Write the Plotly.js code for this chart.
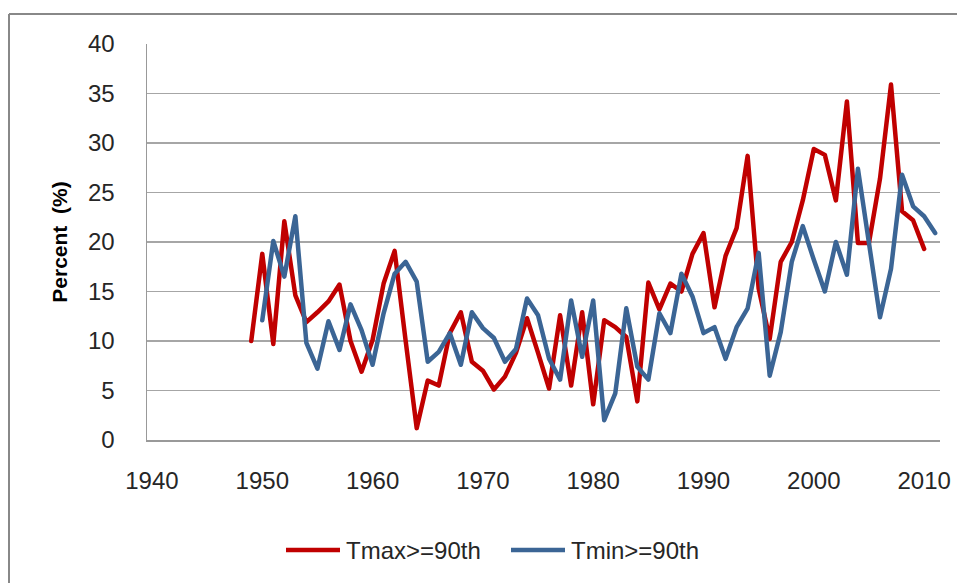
<!DOCTYPE html>
<html>
<head>
<meta charset="utf-8">
<script src="https://cdn.plot.ly/plotly-3.0.1.min.js"></script>
<style>
html, body { margin: 0; padding: 0; background: #ffffff; }
#chart { width: 957px; height: 583px; }
.js-line { stroke-linejoin: round !important; stroke-linecap: round !important; }
</style>
</head>
<body>
<div id="chart"></div>
<script>
// Years
var tmaxYears = [1949,1950,1951,1952,1953,1954,1955,1956,1957,1958,1959,1960,1961,1962,1963,1964,1965,1966,1967,1968,1969,1970,1971,1972,1973,1974,1975,1976,1977,1978,1979,1980,1981,1982,1983,1984,1985,1986,1987,1988,1989,1990,1991,1992,1993,1994,1995,1996,1997,1998,1999,2000,2001,2002,2003,2004,2005,2006,2007,2008,2009,2010];
var tminYears = [1950,1951,1952,1953,1954,1955,1956,1957,1958,1959,1960,1961,1962,1963,1964,1965,1966,1967,1968,1969,1970,1971,1972,1973,1974,1975,1976,1977,1978,1979,1980,1981,1982,1983,1984,1985,1986,1987,1988,1989,1990,1991,1992,1993,1994,1995,1996,1997,1998,1999,2000,2001,2002,2003,2004,2005,2006,2007,2008,2009,2010,2011];

// Percent of days
var tmaxValues = [10.0,18.8,9.7,22.1,14.6,11.9,12.9,14.0,15.7,10.0,6.9,10.1,15.8,19.1,10.0,1.2,6.0,5.5,10.8,12.9,7.9,7.0,5.1,6.4,8.8,12.3,8.8,5.2,12.6,5.5,12.9,3.6,12.1,11.4,10.4,3.9,15.9,13.2,15.8,15.0,18.8,20.9,13.4,18.6,21.4,28.7,15.3,10.2,18.0,20.0,24.2,29.4,28.8,24.2,34.2,19.9,19.9,26.4,35.9,23.1,22.2,19.3];
var tminValues = [12.1,20.1,16.5,22.6,9.8,7.2,12.0,9.1,13.7,11.1,7.6,12.8,16.8,18.0,16.0,7.9,8.9,10.8,7.6,12.9,11.3,10.3,7.9,9.2,14.3,12.6,8.2,6.1,14.1,8.4,14.1,2.0,4.7,13.3,7.4,6.1,12.8,10.8,16.8,14.5,10.8,11.4,8.2,11.4,13.3,18.9,6.5,10.9,18.0,21.6,18.2,15.0,20.0,16.7,27.4,19.7,12.4,17.3,26.8,23.6,22.6,20.9];

var seriesNames = ['Tmax>=90th', 'Tmin>=90th'];
var xTickVals = [1940,1950,1960,1970,1980,1990,2000,2010];
var yTickVals = [0,5,10,15,20,25,30,35,40];

var RED = '#C00000';
var BLUE = '#3B6595';
var FONT = 'Liberation Sans, Arial, sans-serif';

var traces = [
  {x: tmaxYears, y: tmaxValues, name: seriesNames[0], type: 'scatter', mode: 'lines',
   line: {color: RED, width: 4.5}, showlegend: false},
  {x: tminYears, y: tminValues, name: seriesNames[1], type: 'scatter', mode: 'lines',
   line: {color: BLUE, width: 4.5}, showlegend: false}
];

// pixel helpers for legend/frame placement (plot area px 147..940 x 44..440)
var L = 147, R = 940, T = 44, B = 440;
function px(x) { return (x - L) / (R - L); }
function py(y) { return (B - y) / (B - T); }

var layout = {
  width: 957, height: 583,
  margin: {l: L, r: 957 - R, t: T, b: 583 - B, pad: 0},
  paper_bgcolor: '#ffffff', plot_bgcolor: '#ffffff',
  font: {family: FONT, size: 24, color: '#262626'},
  showlegend: false,
  xaxis: {
    range: [1939.55, 2011.44],
    tickmode: 'array', tickvals: xTickVals, ticktext: xTickVals.map(String),
    showgrid: false, zeroline: false,
    showline: true, linecolor: '#999999', linewidth: 1.5,
    ticks: '', ticklabelstandoff: 19,
    tickfont: {family: FONT, size: 24, color: '#262626'}
  },
  yaxis: {
    range: [0, 40],
    tickmode: 'array', tickvals: yTickVals, ticktext: yTickVals.map(String),
    showgrid: true, gridcolor: '#a6a6a6', gridwidth: 1.5,
    zeroline: false,
    showline: true, linecolor: '#999999', linewidth: 1.5,
    ticks: '', ticklabelstandoff: 26,
    tickfont: {family: FONT, size: 24, color: '#262626'},
    title: {text: 'Percent  (%)', font: {family: FONT, size: 21, color: '#000000', weight: 'bold'}, standoff: 14}
  },
  shapes: [
    // chart-area frame (top and left edges)
    {type: 'line', xref: 'paper', yref: 'paper', x0: px(9), y0: py(14), x1: px(960), y1: py(14),
     line: {color: '#888888', width: 2}},
    {type: 'line', xref: 'paper', yref: 'paper', x0: px(9), y0: py(14), x1: px(9), y1: py(590),
     line: {color: '#888888', width: 2}},
    // legend samples
    {type: 'line', xref: 'paper', yref: 'paper', x0: px(286), y0: py(550), x1: px(340), y1: py(550),
     line: {color: RED, width: 4.5}},
    {type: 'line', xref: 'paper', yref: 'paper', x0: px(511), y0: py(550), x1: px(565), y1: py(550),
     line: {color: BLUE, width: 4.5}}
  ],
  annotations: [
    {xref: 'paper', yref: 'paper', x: px(344), y: py(550), xanchor: 'left', yanchor: 'middle',
     text: seriesNames[0], showarrow: false, font: {family: FONT, size: 24, color: '#262626'}},
    {xref: 'paper', yref: 'paper', x: px(569), y: py(550), xanchor: 'left', yanchor: 'middle',
     text: seriesNames[1], showarrow: false, font: {family: FONT, size: 24, color: '#262626'}}
  ]
};

Plotly.newPlot('chart', traces, layout, {displayModeBar: false, staticPlot: true});
</script>
</body>
</html>
